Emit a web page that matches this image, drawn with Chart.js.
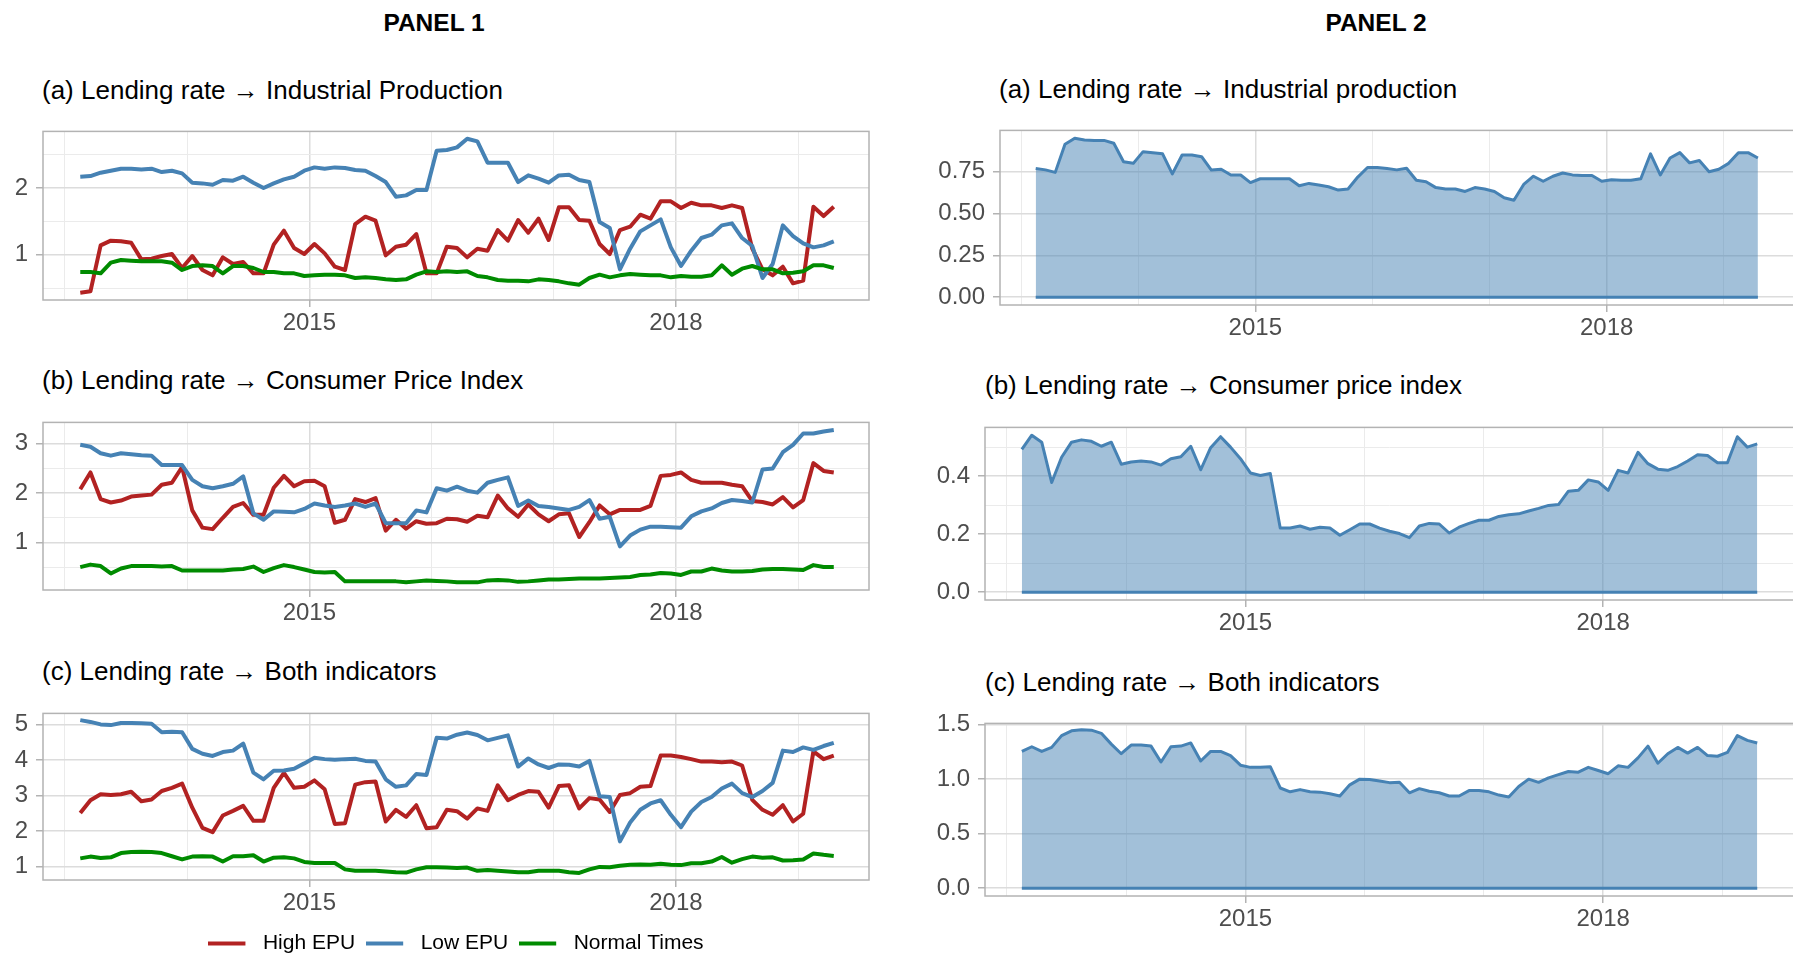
<!DOCTYPE html>
<html>
<head>
<meta charset="utf-8">
<title>Lending rate effects</title>
<script src="https://cdn.jsdelivr.net/npm/chart.js@4.4.1/dist/chart.umd.min.js"></script>
<style>
  html, body { margin: 0; padding: 0; width: 1793px; height: 957px; overflow: hidden; background: #fff; }
  body { position: relative; font-family: "Liberation Sans", Arial, sans-serif; }
  canvas { position: absolute; }
  .head { position: absolute; font-weight: bold; font-size: 24.5px; line-height: 1; transform: translate(-50%, -50%); color: #000; }
  .ttl { position: absolute; font-size: 26px; line-height: 1; transform: translateY(-50%); white-space: nowrap; color: #000; }
</style>
</head>
<body>
<div class="head" style="left:434px;top:23px">PANEL 1</div>
<div class="head" style="left:1376px;top:23px">PANEL 2</div>

<div class="ttl" style="left:42px;top:90px">(a) Lending rate &rarr; Industrial Production</div>
<div class="ttl" style="left:42px;top:380px">(b) Lending rate &rarr; Consumer Price Index</div>
<div class="ttl" style="left:42px;top:671px">(c) Lending rate &rarr; Both indicators</div>
<div class="ttl" style="left:999px;top:89px">(a) Lending rate &rarr; Industrial production</div>
<div class="ttl" style="left:985px;top:385px">(b) Lending rate &rarr; Consumer price index</div>
<div class="ttl" style="left:985px;top:682px">(c) Lending rate &rarr; Both indicators</div>

<canvas id="p1a"></canvas>
<canvas id="p1b"></canvas>
<canvas id="p1c"></canvas>
<canvas id="p2a"></canvas>
<canvas id="p2b"></canvas>
<canvas id="p2c"></canvas>

<script>
// months (monthly estimates)
const months = [
  '2013-02','2013-03','2013-04','2013-05','2013-06','2013-07','2013-08','2013-09','2013-10','2013-11','2013-12',
  '2014-01','2014-02','2014-03','2014-04','2014-05','2014-06','2014-07','2014-08','2014-09','2014-10','2014-11','2014-12',
  '2015-01','2015-02','2015-03','2015-04','2015-05','2015-06','2015-07','2015-08','2015-09','2015-10','2015-11','2015-12',
  '2016-01','2016-02','2016-03','2016-04','2016-05','2016-06','2016-07','2016-08','2016-09','2016-10','2016-11','2016-12',
  '2017-01','2017-02','2017-03','2017-04','2017-05','2017-06','2017-07','2017-08','2017-09','2017-10','2017-11','2017-12',
  '2018-01','2018-02','2018-03','2018-04','2018-05','2018-06','2018-07','2018-08','2018-09','2018-10','2018-11','2018-12',
  '2019-01','2019-02','2019-03','2019-04'
];

const xGridYears = [2013, 2014, 2015, 2016, 2017, 2018, 2019];
const xLabelYears = [2015, 2018];
const seriesNames = ['High EPU', 'Low EPU', 'Normal Times'];

/** PANEL 1 (a) Industrial Production */
const ipHigh = [
  0.43, 0.45, 1.14, 1.21, 1.20, 1.18, 0.93, 0.94, 0.98, 1.01,
  0.80, 0.98, 0.77, 0.69, 0.96, 0.86, 0.89, 0.72, 0.72, 1.15,
  1.36, 1.10, 1.01, 1.16, 1.02, 0.82, 0.77, 1.46, 1.57, 1.51,
  0.99, 1.12, 1.15, 1.31, 0.72, 0.72, 1.12, 1.10, 0.96, 1.09,
  1.06, 1.37, 1.21, 1.52, 1.33, 1.54, 1.22, 1.71, 1.71, 1.52,
  1.51, 1.16, 1.01, 1.37, 1.42, 1.60, 1.54, 1.80, 1.80, 1.70,
  1.78, 1.74, 1.74, 1.70, 1.74, 1.70, 1.09, 0.78, 0.69, 0.82,
  0.57, 0.61, 1.72, 1.58, 1.72
];
const ipLow = [
  2.17, 2.18, 2.23, 2.26, 2.29, 2.29, 2.28, 2.29, 2.24, 2.26,
  2.22, 2.08, 2.07, 2.05, 2.12, 2.11, 2.17, 2.08, 2.00, 2.07,
  2.13, 2.17, 2.26, 2.31, 2.29, 2.31, 2.30, 2.27, 2.26, 2.18,
  2.09, 1.87, 1.89, 1.97, 1.97, 2.56, 2.57, 2.61, 2.74, 2.70,
  2.38, 2.38, 2.38, 2.09, 2.19, 2.14, 2.08, 2.19, 2.20, 2.12,
  2.09, 1.49, 1.40, 0.78, 1.09, 1.35, 1.44, 1.53, 1.11, 0.83,
  1.06, 1.25, 1.30, 1.44, 1.47, 1.25, 1.13, 0.65, 0.86, 1.44,
  1.28, 1.17, 1.11, 1.14, 1.20
];
const ipNormal = [
  0.74, 0.74, 0.72, 0.88, 0.92, 0.91, 0.90, 0.90, 0.90, 0.88,
  0.77, 0.83, 0.84, 0.83, 0.72, 0.83, 0.83, 0.80, 0.74, 0.74,
  0.72, 0.72, 0.68, 0.69, 0.70, 0.70, 0.69, 0.65, 0.66, 0.65,
  0.63, 0.62, 0.63, 0.70, 0.75, 0.74, 0.75, 0.74, 0.75, 0.68,
  0.66, 0.62, 0.61, 0.61, 0.60, 0.63, 0.62, 0.60, 0.57, 0.55,
  0.65, 0.70, 0.66, 0.69, 0.71, 0.70, 0.69, 0.69, 0.66, 0.68,
  0.67, 0.67, 0.69, 0.84, 0.70, 0.79, 0.83, 0.78, 0.78, 0.72,
  0.73, 0.75, 0.84, 0.84, 0.80
];

/** PANEL 1 (b) Consumer Price Index */
const cpiHigh = [
  2.08, 2.42, 1.88, 1.81, 1.85, 1.93, 1.95, 1.97, 2.17, 2.21,
  2.53, 1.65, 1.30, 1.27, 1.50, 1.72, 1.80, 1.56, 1.56, 2.11,
  2.35, 2.14, 2.24, 2.25, 2.14, 1.40, 1.46, 1.88, 1.82, 1.90,
  1.24, 1.46, 1.28, 1.43, 1.38, 1.39, 1.48, 1.47, 1.42, 1.54,
  1.51, 1.95, 1.69, 1.52, 1.77, 1.57, 1.43, 1.57, 1.59, 1.11,
  1.41, 1.75, 1.57, 1.66, 1.66, 1.66, 1.74, 2.35, 2.37, 2.42,
  2.27, 2.21, 2.21, 2.21, 2.17, 2.14, 1.84, 1.82, 1.77, 1.92,
  1.71, 1.86, 2.61, 2.45, 2.42
];
const cpiLow = [
  2.98, 2.94, 2.81, 2.76, 2.81, 2.79, 2.77, 2.76, 2.57, 2.57,
  2.57, 2.27, 2.14, 2.10, 2.14, 2.19, 2.34, 1.59, 1.46, 1.63,
  1.62, 1.61, 1.68, 1.79, 1.75, 1.72, 1.75, 1.79, 1.72, 1.79,
  1.39, 1.39, 1.39, 1.65, 1.61, 2.10, 2.05, 2.13, 2.05, 2.01,
  2.21, 2.27, 2.32, 1.74, 1.85, 1.74, 1.72, 1.69, 1.66, 1.72,
  1.86, 1.48, 1.52, 0.92, 1.14, 1.26, 1.32, 1.32, 1.31, 1.30,
  1.53, 1.63, 1.69, 1.80, 1.86, 1.84, 1.81, 2.48, 2.50, 2.83,
  2.98, 3.21, 3.21, 3.25, 3.28
];
const cpiNormal = [
  0.50, 0.55, 0.52, 0.37, 0.47, 0.52, 0.52, 0.52, 0.51, 0.52,
  0.43, 0.43, 0.43, 0.43, 0.43, 0.45, 0.46, 0.51, 0.40, 0.48,
  0.54, 0.50, 0.45, 0.40, 0.39, 0.40, 0.21, 0.21, 0.21, 0.21,
  0.21, 0.21, 0.19, 0.21, 0.23, 0.22, 0.21, 0.19, 0.19, 0.19,
  0.23, 0.24, 0.23, 0.20, 0.21, 0.23, 0.25, 0.25, 0.26, 0.27,
  0.27, 0.27, 0.28, 0.29, 0.30, 0.34, 0.35, 0.38, 0.37, 0.34,
  0.41, 0.41, 0.47, 0.43, 0.41, 0.41, 0.42, 0.45, 0.46, 0.46,
  0.45, 0.44, 0.54, 0.50, 0.50
];

/** PANEL 1 (c) Both indicators */
const bothHigh = [
  2.51, 2.87, 3.04, 3.02, 3.04, 3.11, 2.84, 2.89, 3.13, 3.22,
  3.34, 2.66, 2.09, 1.97, 2.44, 2.57, 2.71, 2.29, 2.29, 3.22,
  3.64, 3.22, 3.25, 3.43, 3.18, 2.20, 2.22, 3.31, 3.38, 3.40,
  2.27, 2.60, 2.40, 2.73, 2.08, 2.11, 2.60, 2.56, 2.35, 2.64,
  2.57, 3.29, 2.87, 3.02, 3.13, 3.11, 2.66, 3.27, 3.29, 2.64,
  2.93, 2.89, 2.54, 3.02, 3.07, 3.25, 3.27, 4.13, 4.13, 4.09,
  4.03, 3.96, 3.96, 3.94, 3.96, 3.85, 2.88, 2.60, 2.46, 2.73,
  2.27, 2.49, 4.25, 4.03, 4.13
];
const bothLow = [
  5.13, 5.08, 5.01, 4.99, 5.05, 5.05, 5.04, 5.03, 4.79, 4.80,
  4.79, 4.32, 4.18, 4.12, 4.23, 4.27, 4.47, 3.65, 3.46, 3.70,
  3.71, 3.76, 3.91, 4.07, 4.03, 4.01, 4.03, 4.04, 3.98, 3.96,
  3.46, 3.25, 3.29, 3.61, 3.58, 4.63, 4.61, 4.72, 4.78, 4.71,
  4.56, 4.63, 4.70, 3.82, 4.05, 3.88, 3.78, 3.88, 3.87, 3.82,
  3.98, 2.98, 2.96, 1.71, 2.24, 2.60, 2.78, 2.87, 2.46, 2.11,
  2.55, 2.82, 2.96, 3.20, 3.34, 3.07, 2.96, 3.13, 3.36, 4.27,
  4.23, 4.36, 4.29, 4.40, 4.49
];
const bothNormal = [
  1.23, 1.28, 1.24, 1.26, 1.38, 1.41, 1.42, 1.41, 1.38, 1.29,
  1.20, 1.28, 1.29, 1.28, 1.14, 1.29, 1.29, 1.32, 1.14, 1.25,
  1.26, 1.23, 1.13, 1.10, 1.10, 1.10, 0.92, 0.88, 0.88, 0.88,
  0.86, 0.84, 0.83, 0.92, 0.98, 0.98, 0.97, 0.96, 0.97, 0.88,
  0.90, 0.88, 0.86, 0.84, 0.84, 0.88, 0.88, 0.88, 0.84, 0.82,
  0.92, 0.99, 0.98, 1.02, 1.05, 1.06, 1.05, 1.08, 1.05, 1.04,
  1.09, 1.09, 1.14, 1.27, 1.11, 1.21, 1.28, 1.25, 1.26, 1.17,
  1.18, 1.20, 1.37, 1.33, 1.30
];

/** PANEL 2 */
const p2Ip = [
  0.769, 0.761, 0.746, 0.914, 0.950, 0.940, 0.937, 0.937, 0.920, 0.810,
  0.800, 0.870, 0.864, 0.857, 0.737, 0.850, 0.850, 0.840, 0.760, 0.765,
  0.730, 0.730, 0.685, 0.708, 0.708, 0.708, 0.708, 0.666, 0.680, 0.670,
  0.660, 0.640, 0.647, 0.718, 0.775, 0.775, 0.769, 0.761, 0.771, 0.699,
  0.690, 0.655, 0.647, 0.647, 0.632, 0.655, 0.647, 0.632, 0.594, 0.579,
  0.674, 0.723, 0.693, 0.723, 0.742, 0.731, 0.727, 0.727, 0.693, 0.702,
  0.699, 0.699, 0.708, 0.857, 0.731, 0.832, 0.864, 0.803, 0.817, 0.750,
  0.765, 0.800, 0.864, 0.864, 0.832
];
const p2Cpi = [
  0.492, 0.541, 0.517, 0.378, 0.465, 0.517, 0.525, 0.520, 0.503, 0.517,
  0.441, 0.449, 0.452, 0.449, 0.438, 0.460, 0.467, 0.503, 0.422, 0.498,
  0.536, 0.500, 0.460, 0.411, 0.402, 0.409, 0.221, 0.221, 0.228, 0.217,
  0.224, 0.221, 0.196, 0.215, 0.235, 0.235, 0.221, 0.210, 0.202, 0.188,
  0.228, 0.237, 0.235, 0.204, 0.224, 0.237, 0.248, 0.248, 0.261, 0.267,
  0.270, 0.280, 0.289, 0.299, 0.302, 0.348, 0.351, 0.387, 0.380, 0.351,
  0.420, 0.411, 0.482, 0.443, 0.424, 0.420, 0.433, 0.452, 0.474, 0.471,
  0.446, 0.446, 0.536, 0.500, 0.511
];
const p2Both = [
  1.253, 1.296, 1.253, 1.290, 1.398, 1.442, 1.451, 1.448, 1.419, 1.320,
  1.232, 1.311, 1.311, 1.302, 1.156, 1.296, 1.302, 1.331, 1.165, 1.253,
  1.253, 1.215, 1.127, 1.107, 1.107, 1.113, 0.918, 0.883, 0.903, 0.883,
  0.880, 0.865, 0.845, 0.947, 0.999, 0.996, 0.982, 0.967, 0.970, 0.874,
  0.912, 0.888, 0.874, 0.845, 0.845, 0.894, 0.894, 0.883, 0.853, 0.836,
  0.932, 0.999, 0.970, 1.011, 1.040, 1.069, 1.063, 1.107, 1.078, 1.049,
  1.121, 1.107, 1.194, 1.302, 1.145, 1.232, 1.290, 1.238, 1.290, 1.215,
  1.209, 1.244, 1.398, 1.354, 1.331
];
// lower edge of the ribbon
const ribbonLow = 0;

const RED = '#B22222', BLUE = '#4682B4', GREEN = '#008B00';
Chart.defaults.font.family = '"Liberation Sans", Arial, sans-serif';

function monthPos(m) {
  return Number(m.slice(0, 4)) + (Number(m.slice(5, 7)) - 0.5) / 12;
}
function toPoints(values) {
  return values.map(function (v, i) { return { x: monthPos(months[i]), y: v }; });
}
function isStep(v, step) {
  return Math.abs(v / step - Math.round(v / step)) < 1e-6;
}

// legend key: a short line sitting at the left of a wider box (ggplot-like gap before the text)
function legendKey(color) {
  var k = document.createElement('canvas');
  k.width = 44; k.height = 6;
  var c = k.getContext('2d');
  c.strokeStyle = color;
  c.lineWidth = 4;
  c.beginPath(); c.moveTo(0, 3); c.lineTo(37, 3); c.stroke();
  return k;
}

// border round the panel, like ggplot panel.border
var panelBorder = {
  id: 'panelBorder',
  afterDatasetsDraw: function (chart) {
    var a = chart.chartArea, c = chart.ctx;
    c.save();
    c.strokeStyle = '#B3B3B3';
    c.lineWidth = 1.5;
    c.strokeRect(a.left, a.top, a.right - a.left, a.bottom - a.top);
    c.restore();
  }
};

function makeChart(id, p) {
  var padT = 15, padR = 10, xH = 42;
  var legendH = p.legend ? 41.5 : 0;
  var cv = document.getElementById(id);
  var cl = Math.round(p.box.l - p.yW);
  var ct = Math.round(p.box.t - padT);
  cv.style.left = cl + 'px';
  cv.style.top = ct + 'px';
  cv.width = Math.round(p.box.r - cl) + padR;
  cv.height = Math.round(p.box.b - ct + xH + legendH);

  return new Chart(cv, {
    type: 'line',
    data: { datasets: p.datasets },
    plugins: [panelBorder],
    options: {
      responsive: false,
      animation: false,
      devicePixelRatio: 1,
      layout: { padding: { top: padT, right: padR, left: 0, bottom: 0 } },
      plugins: {
        tooltip: { enabled: false },
        legend: p.legend ? {
          display: true,
          position: 'bottom',
          fullSize: false,
          labels: {
            usePointStyle: true,
            pointStyleWidth: 44,
            boxHeight: 21,
            padding: 11,
            color: '#000',
            font: { size: 21 },
            sort: function (a, b) { return a.datasetIndex - b.datasetIndex; }
          }
        } : { display: false }
      },
      scales: {
        x: {
          type: 'linear',
          min: p.xMin, max: p.xMax,
          afterBuildTicks: function (s) { s.ticks = xGridYears.map(function (v) { return { value: v }; }); },
          afterFit: function (s) { s.height = xH; },
          border: { display: false },
          grid: {
            color: function (c) { return xLabelYears.indexOf(c.tick.value) >= 0 ? '#DCDCDC' : '#EBEBEB'; },
            lineWidth: function (c) { return xLabelYears.indexOf(c.tick.value) >= 0 ? 1.5 : 1; },
            tickLength: 7,
            tickWidth: 1.5,
            tickColor: function (c) { return xLabelYears.indexOf(c.tick.value) >= 0 ? '#B3B3B3' : 'rgba(0,0,0,0)'; }
          },
          ticks: {
            padding: 2,
            autoSkip: false,
            maxRotation: 0,
            color: '#4D4D4D',
            font: { size: 24 },
            callback: function (v) { return xLabelYears.indexOf(v) >= 0 ? String(v) : ''; }
          }
        },
        y: {
          min: p.yMin, max: p.yMax,
          afterBuildTicks: function (s) { s.ticks = p.yGrid.map(function (v) { return { value: v }; }); },
          afterFit: function (s) { s.width = p.yW; },
          border: { display: false },
          grid: {
            color: function (c) { return isStep(c.tick.value, p.yStep) ? '#DCDCDC' : '#EBEBEB'; },
            lineWidth: function (c) { return isStep(c.tick.value, p.yStep) ? 1.5 : 1; },
            tickLength: 7,
            tickWidth: 1.5,
            tickColor: function (c) { return isStep(c.tick.value, p.yStep) ? '#B3B3B3' : 'rgba(0,0,0,0)'; }
          },
          ticks: {
            padding: 8,
            color: '#4D4D4D',
            font: { size: 24 },
            callback: function (v) { return isStep(v, p.yStep) ? v.toFixed(p.yDigits) : ''; }
          }
        }
      }
    }
  });
}

function epuSets(high, low, normal) {
  var base = { borderWidth: 4, pointRadius: 0, tension: 0, fill: false, borderJoinStyle: 'round' };
  return [
    Object.assign({ label: seriesNames[0], data: toPoints(high), borderColor: RED, backgroundColor: RED, pointStyle: legendKey(RED), order: 2 }, base),
    Object.assign({ label: seriesNames[1], data: toPoints(low), borderColor: BLUE, backgroundColor: BLUE, pointStyle: legendKey(BLUE), order: 1 }, base),
    Object.assign({ label: seriesNames[2], data: toPoints(normal), borderColor: GREEN, backgroundColor: GREEN, pointStyle: legendKey(GREEN), order: 0 }, base)
  ];
}

function ribbonSets(values) {
  return [
    { label: 'effect', data: toPoints(values), borderColor: BLUE, borderWidth: 3,
      backgroundColor: 'rgba(70,130,180,0.5)', fill: 'origin', pointRadius: 0, tension: 0, borderJoinStyle: 'round' },
    { label: 'lower', data: [{ x: monthPos(months[0]), y: ribbonLow }, { x: monthPos(months[months.length - 1]), y: ribbonLow }],
      borderColor: BLUE, borderWidth: 3, pointRadius: 0, fill: false }
  ];
}

makeChart('p1a', { box: { l: 43, t: 123.5, r: 868.5, b: 299.5 }, yW: 43, xMin: 2012.82, xMax: 2019.58,
  yMin: 0.32, yMax: 2.85, yGrid: [0.5, 1, 1.5, 2, 2.5], yStep: 1, yDigits: 0,
  datasets: epuSets(ipHigh, ipLow, ipNormal) });
makeChart('p1b', { box: { l: 43, t: 414.5, r: 868.5, b: 590 }, yW: 43, xMin: 2012.82, xMax: 2019.58,
  yMin: 0.035, yMax: 3.435, yGrid: [0.5, 1, 1.5, 2, 2.5, 3], yStep: 1, yDigits: 0,
  datasets: epuSets(cpiHigh, cpiLow, cpiNormal) });
makeChart('p1c', { box: { l: 43, t: 705.7, r: 868.5, b: 880 }, yW: 43, xMin: 2012.82, xMax: 2019.58,
  yMin: 0.62, yMax: 5.32, yGrid: [1, 1.5, 2, 2.5, 3, 3.5, 4, 4.5, 5], yStep: 1, yDigits: 0,
  datasets: epuSets(bothHigh, bothLow, bothNormal), legend: true });

makeChart('p2a', { box: { l: 999.7, t: 123.3, r: 1794, b: 305 }, yW: 70, xMin: 2012.82, xMax: 2019.6,
  yMin: -0.047, yMax: 0.997, yGrid: [0, 0.125, 0.25, 0.375, 0.5, 0.625, 0.75, 0.875], yStep: 0.25, yDigits: 2,
  datasets: ribbonSets(p2Ip) });
makeChart('p2b', { box: { l: 985.4, t: 420, r: 1794, b: 600 }, yW: 60, xMin: 2012.816, xMax: 2019.6,
  yMin: -0.027, yMax: 0.568, yGrid: [0, 0.1, 0.2, 0.3, 0.4, 0.5], yStep: 0.2, yDigits: 1,
  datasets: ribbonSets(p2Cpi) });
makeChart('p2c', { box: { l: 985.4, t: 715.7, r: 1794, b: 896 }, yW: 60, xMin: 2012.816, xMax: 2019.6,
  yMin: -0.072, yMax: 1.51, yGrid: [0, 0.25, 0.5, 0.75, 1, 1.25, 1.5], yStep: 0.5, yDigits: 1,
  datasets: ribbonSets(p2Both) });
</script>
</body>
</html>
